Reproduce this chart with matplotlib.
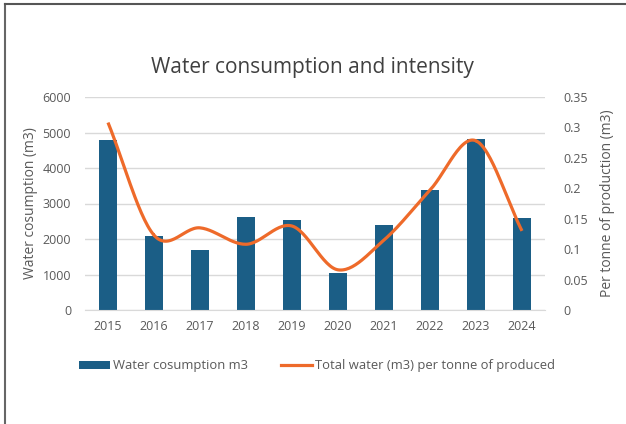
import matplotlib
matplotlib.use("Agg")
import matplotlib.pyplot as plt
import numpy as np
from matplotlib.lines import Line2D
from matplotlib.patches import Patch

# ── Data ──────────────────────────────────────────────────────────────────────
years = ["2015", "2016", "2017", "2018", "2019", "2020", "2021", "2022", "2023", "2024"]
water_m3 = [4800, 2080, 1680, 2620, 2530, 1050, 2390, 3370, 4830, 2600]
water_per_tonne = [0.308, 0.123, 0.135, 0.108, 0.138, 0.066, 0.115, 0.197, 0.278, 0.130]

BAR_COLOR = "#1B5E86"
LINE_COLOR = "#EE6A2A"
TEXT_COLOR = "#595959"
GRID_COLOR = "#D9D9D9"

plt.rcParams["font.family"] = ["Open Sans", "DejaVu Sans"]


def smooth_curve(x, y, steps=30):
    """Catmull-Rom curve through the points, like Excel's smoothed line."""
    x = np.asarray(x, float)
    y = np.asarray(y, float)
    px = np.concatenate([[2 * x[0] - x[1]], x, [2 * x[-1] - x[-2]]])
    py = np.concatenate([[2 * y[0] - y[1]], y, [2 * y[-1] - y[-2]]])
    xs, ys = [], []
    t = np.linspace(0, 1, steps)
    for i in range(1, len(px) - 2):
        for p, out in ((px, xs), (py, ys)):
            p0, p1, p2, p3 = p[i - 1], p[i], p[i + 1], p[i + 2]
            out.extend(0.5 * (2 * p1 + (-p0 + p2) * t
                              + (2 * p0 - 5 * p1 + 4 * p2 - p3) * t ** 2
                              + (-p0 + 3 * p1 - 3 * p2 + p3) * t ** 3))
    return np.array(xs), np.array(ys)


fig = plt.figure(figsize=(6.26, 4.24), dpi=100)
ax = fig.add_axes([85 / 626, 1 - 310 / 424, 460 / 626, 213 / 424])
ax2 = ax.twinx()

x = np.arange(len(years))
ax.bar(x, water_m3, width=0.4, color=BAR_COLOR, zorder=2)
ax.set_xlim(-0.5, len(years) - 0.5)
ax.set_ylim(0, 6000)
ax.set_yticks(range(0, 6001, 1000))
ax.set_xticks(x)
ax.set_xticklabels(years)
ax.yaxis.grid(True, color=GRID_COLOR, linewidth=1, zorder=0)
ax.set_axisbelow(True)

sx, sy = smooth_curve(x, water_per_tonne)
ax2.plot(sx, sy, color=LINE_COLOR, linewidth=2.3, solid_capstyle="butt", zorder=3)
ax2.set_ylim(0, 0.35)
ax2.set_yticks([0, 0.05, 0.1, 0.15, 0.2, 0.25, 0.3, 0.35])
ax2.set_yticklabels(["0", "0.05", "0.1", "0.15", "0.2", "0.25", "0.3", "0.35"])

for a in (ax, ax2):
    for s in a.spines.values():
        s.set_visible(False)
    a.tick_params(length=0, labelsize=9, colors=TEXT_COLOR)
ax.spines["bottom"].set_visible(True)
ax.spines["bottom"].set_color(GRID_COLOR)
ax.tick_params(axis="y", pad=10)
ax.tick_params(axis="x", pad=7)
ax2.tick_params(axis="y", pad=13)

ax.set_ylabel("Water cosumption (m3)", fontsize=10, color=TEXT_COLOR, labelpad=3)
ax2.set_ylabel("Per tonne of production (m3)", fontsize=10, color=TEXT_COLOR, labelpad=9)

fig.text(312 / 626, 1 - 67 / 424, "Water consumption and intensity",
         ha="center", va="center", fontsize=15, color="#404040")

handles = [Patch(facecolor=BAR_COLOR, label="Water cosumption m3"),
           Line2D([0], [0], color=LINE_COLOR, linewidth=2.3,
                  label="Total water (m3) per tonne of produced")]
fig.legend(handles=handles, loc="center", bbox_to_anchor=(317 / 626, 1 - 366 / 424),
           ncol=2, frameon=False, fontsize=9.4, labelcolor=TEXT_COLOR,
           handlelength=2.4, handleheight=0.6, handletextpad=0.25, columnspacing=2.5)

# outer frame of the screenshot (left and top edges only)
fig.add_artist(Line2D([5 / 626, 5 / 626], [0, 1 - 4 / 424], transform=fig.transFigure,
                      color="#666666", linewidth=1.5))
fig.add_artist(Line2D([5 / 626, 1], [1 - 4 / 424, 1 - 4 / 424], transform=fig.transFigure,
                      color="#555555", linewidth=1.5))

fig.savefig("out.png", dpi=100)
